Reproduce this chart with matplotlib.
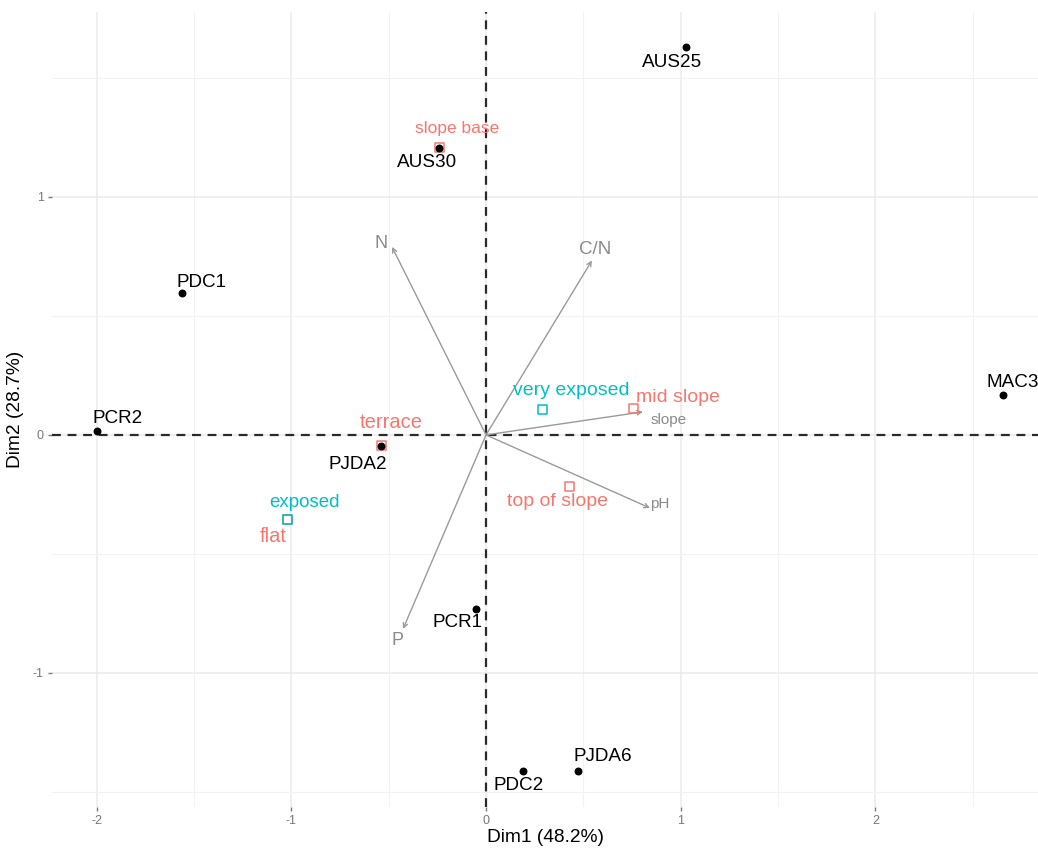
import numpy as np
import matplotlib.pyplot as plt
from matplotlib.ticker import MultipleLocator

plt.rcParams['font.family'] = ['Liberation Sans', 'DejaVu Sans']
plt.rcParams['axes.unicode_minus'] = False

# --- individuals (PCA coordinates) ---
ind_names = ["AUS25", "AUS30", "PDC1", "PCR2", "PJDA2", "PCR1", "PDC2", "PJDA6", "MAC3"]
ind_x = [1.027, -0.241, -1.561, -1.998, -0.539, -0.051, 0.190, 0.470, 2.655]
ind_y = [1.630, 1.206, 0.597, 0.017, -0.046, -0.731, -1.410, -1.410, 0.168]

# --- supplementary qualitative categories ---
qual_names = ["slope base", "terrace", "flat", "mid slope", "top of slope", "very exposed", "exposed"]
qual_x = [-0.241, -0.539, -1.022, 0.755, 0.431, 0.288, -1.022]
qual_y = [1.206, -0.046, -0.357, 0.109, -0.218, 0.105, -0.357]
qual_group = ["pos", "pos", "pos", "pos", "pos", "exp", "exp"]

# --- variables (arrows) ---
var_names = ["N", "C/N", "slope", "pH", "P"]
var_x = [-0.483, 0.544, 0.806, 0.842, -0.426]
var_y = [0.790, 0.733, 0.097, -0.307, -0.815]

# label placement (offset pixels from the mark) and sizes
ind_off = [(-14, -16), (-12, -15), (19, 10), (21, 12), (-23, -19),
           (-19, -14), (-4, -15), (25, 14), (10, 12)]
qual_off = [(18, 19), (10, 23), (-14, -17), (45, 11), (-12, -15), (29, 19), (17, 17)]
qual_size = [12.5, 14.5, 14.5, 14, 14, 14, 13.5]
var_off = [(-11, 3), (3, 11), (26, -8), (10, 4), (-6, -12)]
var_size = [13, 13.5, 11, 11, 13]

colors = {"pos": "#F8766D", "exp": "#00BFC4"}
grey = "#8a8a8a"

fig = plt.figure(figsize=(10.38, 8.49), dpi=100)
ax = fig.add_axes([0.0501, 0.0495, 0.9518, 0.9364])
ax.set_xlim(-2.229, 2.845)
ax.set_ylim(-1.563, 1.777)

for s in ax.spines.values():
    s.set_visible(False)
ax.xaxis.set_major_locator(MultipleLocator(1))
ax.yaxis.set_major_locator(MultipleLocator(1))
ax.xaxis.set_minor_locator(MultipleLocator(0.5))
ax.yaxis.set_minor_locator(MultipleLocator(0.5))
ax.grid(which='major', color='#ebebeb', lw=1.1)
ax.grid(which='minor', color='#f2f2f2', lw=0.8)
ax.tick_params(which='major', length=3, width=1, color='#777777', labelsize=9,
               labelcolor='#777777', pad=3)
ax.tick_params(which='minor', length=0)
ax.set_axisbelow(True)

ax.axhline(0, color='#2a2a2a', lw=1.6, ls=(0, (4, 3)), zorder=1)
ax.axvline(0, color='#2a2a2a', lw=1.6, ls=(0, (4, 3)), zorder=1)

# variable arrows
for name, x, y, off, fs in zip(var_names, var_x, var_y, var_off, var_size):
    ax.annotate("", xy=(x, y), xytext=(0, 0),
                arrowprops=dict(arrowstyle='->', color='#9a9a9a', lw=1.0,
                                shrinkA=0, shrinkB=0, mutation_scale=8), zorder=2)
    ax.annotate(name, (x, y), xytext=off, textcoords='offset pixels',
                ha='center', va='center', fontsize=fs, color=grey)

# supplementary categories (hollow squares)
for name, x, y, g, off, fs in zip(qual_names, qual_x, qual_y, qual_group, qual_off, qual_size):
    ax.scatter(x, y, marker='s', s=42, facecolors='none', edgecolors=colors[g],
               linewidths=1.1, zorder=3)
    ax.annotate(name, (x, y), xytext=off, textcoords='offset pixels',
                ha='center', va='center', fontsize=fs, color=colors[g])

# individuals
ax.scatter(ind_x, ind_y, s=22, color='black', zorder=4)
for name, x, y, off in zip(ind_names, ind_x, ind_y, ind_off):
    ax.annotate(name, (x, y), xytext=off, textcoords='offset pixels',
                ha='center', va='center', fontsize=13.6, color='black')

ax.set_xlabel("Dim1 (48.2%)", fontsize=13.8, labelpad=1)
ax.set_ylabel("Dim2 (28.7%)", fontsize=13.8, labelpad=6)

fig.savefig("out.png", dpi=100)
